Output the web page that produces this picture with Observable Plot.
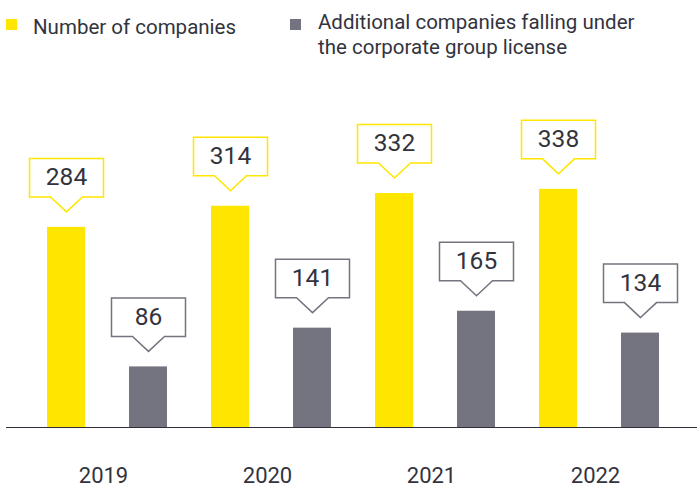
<!DOCTYPE html>
<html>
<head>
<meta charset="utf-8">
<script src="https://cdn.jsdelivr.net/npm/d3@7"></script>
<script src="https://cdn.jsdelivr.net/npm/@observablehq/plot@0.6"></script>
<style>
  body { margin: 0; background: #fff; font-family: Roboto, "Noto Sans", sans-serif; color: #2e2e38; }
  #legend { position: relative; width: 697px; height: 62px; }
  .sw { position: absolute; width: 11px; height: 11px; }
  .lt { position: absolute; font-size: 20.5px; line-height: 25px; white-space: nowrap; color: #33333d; }
</style>
</head>
<body>
<div id="legend"></div>
<div id="chart"></div>
<script>
const years = ["2019", "2020", "2021", "2022"];
const companies = [284, 314, 332, 338];
const additional = [86, 141, 165, 134];
const seriesNames = ["Number of companies", "Additional companies falling under\nthe corporate group license"];
const seriesColors = ["#ffe600", "#747480"];

// legend
const legend = document.getElementById("legend");
legend.innerHTML = `
  <div class="sw" style="left:6px;top:19px;background:${seriesColors[0]}"></div>
  <div class="lt" style="left:33px;top:15px">${seriesNames[0]}</div>
  <div class="sw" style="left:290px;top:19px;background:${seriesColors[1]}"></div>
  <div class="lt" style="left:318px;top:10px">${seriesNames[1].replace("\n", "<br>")}</div>`;

const data = [];
years.forEach((y, i) => {
  data.push({year: y, key: y + "|a", series: 0, value: companies[i]});
  data.push({year: y, key: y + "|b", series: 1, value: additional[i]});
});
const keys = data.map(d => d.key);

const callout = {
  draw(ctx) {
    ctx.moveTo(0, -15.5);
    ctx.lineTo(-16, -30.5);
    ctx.lineTo(-37, -30.5);
    ctx.lineTo(-37, -69);
    ctx.lineTo(37, -69);
    ctx.lineTo(37, -30.5);
    ctx.lineTo(16, -30.5);
    ctx.closePath();
  }
};

const chart = Plot.plot({
  width: 697,
  height: 427,
  marginLeft: 6,
  marginRight: 0,
  marginTop: 0,
  marginBottom: 62,
  style: {fontFamily: "Roboto, 'Noto Sans', sans-serif", color: "#33333d", background: "white"},
  x: {type: "band", domain: keys, paddingInner: 0.539, paddingOuter: 0.461, align: 0.514, axis: null, label: null},
  y: {domain: [0, 518], axis: null},
  marks: [
    Plot.barY(data, {x: "key", y: "value", fill: d => seriesColors[d.series]}),
    Plot.ruleY([0], {stroke: "#2e2e38", strokeWidth: 1.2}),
    Plot.dot(data, {x: "key", y: "value", symbol: callout, fill: "white", stroke: d => seriesColors[d.series], strokeWidth: 1.5}),
    Plot.text(data, {x: "key", y: "value", text: d => String(d.value), dy: -50, lineAnchor: "middle", fontSize: 24.5, fill: "#33333d"}),
    Plot.axisX(data.filter(d => d.series === 0).map(d => d.key), {
      label: null, tickSize: 0, tickPadding: 40, fontSize: 22, dx: 37, tickFormat: k => k.split("|")[0], fill: "#33333d"
    })
  ]
});
document.getElementById("chart").appendChild(chart);
</script>
</body>
</html>
